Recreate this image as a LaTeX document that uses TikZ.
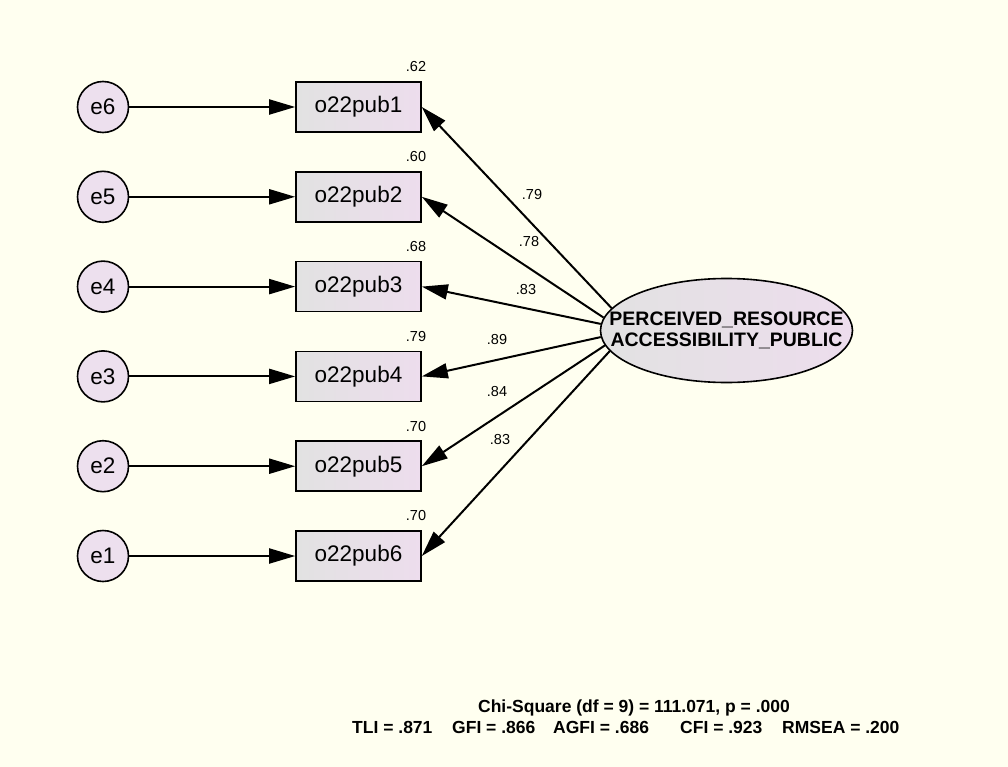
\documentclass[tikz,border=0pt]{standalone}
\usepackage{fontspec}
\setmainfont{Liberation Sans}
\usetikzlibrary{arrows.meta,shapes.geometric}
\definecolor{bgc}{HTML}{FFFFF0}
\definecolor{boxl}{HTML}{E2E2E2}
\definecolor{boxr}{HTML}{EDDDED}
\definecolor{circc}{HTML}{EDE0EE}
\begin{document}
\begin{tikzpicture}[x=1pt,y=-1pt,
  obs/.style={draw=black, line width=1.6pt, minimum width=125pt, minimum height=50pt, inner sep=0pt,
     left color=boxl, right color=boxr, font=\fontsize{22.5}{24}\selectfont},
  err/.style={circle, draw=black, line width=1.6pt, minimum size=51pt, inner sep=0pt, fill=circc,
     font=\fontsize{22.5}{24}\selectfont},
  lv/.style={ellipse, draw=black, line width=1.6pt, minimum width=252pt, minimum height=104pt, inner sep=0pt,
     left color=boxl, right color=boxr},
  path/.style={line width=2pt, -{Triangle[length=26pt,width=15pt]}},
  est/.style={font=\fontsize{14.5}{16}\selectfont, inner sep=0pt},
  fitidx/.style={font=\bfseries\fontsize{17.5}{19}\selectfont, inner sep=0pt}
]
\fill[bgc] (0,0) rectangle (1008,767);
\useasboundingbox (0,0) rectangle (1008,767);

\foreach \i/\e/\y/\r in {1/6/107/.62, 2/5/196.8/.60, 3/4/286.6/.68, 4/3/376.4/.79, 5/2/466.2/.70, 6/1/556/.70}{
  \node[obs] (b\i) at (358.5,\y) {o22pub\i};
  \node[err] (e\e) at (103,\y) {e\e};
  \node[est] (r\i) at (416,\y-40) {\r};
  \draw[path] (e\e) -- (b\i.west);
}

\node[lv] (lat) at (726.5,330.5) {};
\node[font=\bfseries\fontsize{19.5}{21}\selectfont, align=center, inner sep=0pt] (lattext) at (lat.center)
  {PERCEIVED\_RESOURCE\\ACCESSIBILITY\_PUBLIC};

\draw[path] (lat.169.2) -- (b1.east);
\draw[path] (lat.174) -- (b2.east);
\draw[path] (lat.177.4) -- (b3.east);
\draw[path] (lat.183) -- (b4.east);
\draw[path] (lat.187.8) -- (b5.east);
\draw[path] (lat.190.3) -- (b6.east);

\node[est] (w1) at (532,195) {.79};
\node[est] (w2) at (529,242) {.78};
\node[est] (w3) at (526,290) {.83};
\node[est] (w4) at (497,340) {.89};
\node[est] (w5) at (497,392) {.84};
\node[est] (w6) at (500,440) {.83};

\node[fitidx] (chi) at (634,708) {Chi-Square (df = 9) = 111.071, p = .000};
\node[fitidx, anchor=west] (tli) at (352,727.5) {TLI = .871};
\node[fitidx, anchor=west] (gfi) at (452,727.5) {GFI = .866};
\node[fitidx, anchor=west] (agfi) at (553,727.5) {AGFI = .686};
\node[fitidx, anchor=west] (cfi) at (680,727.5) {CFI = .923};
\node[fitidx, anchor=west] (rmsea) at (782,727.5) {RMSEA = .200};
\end{tikzpicture}
\end{document}
